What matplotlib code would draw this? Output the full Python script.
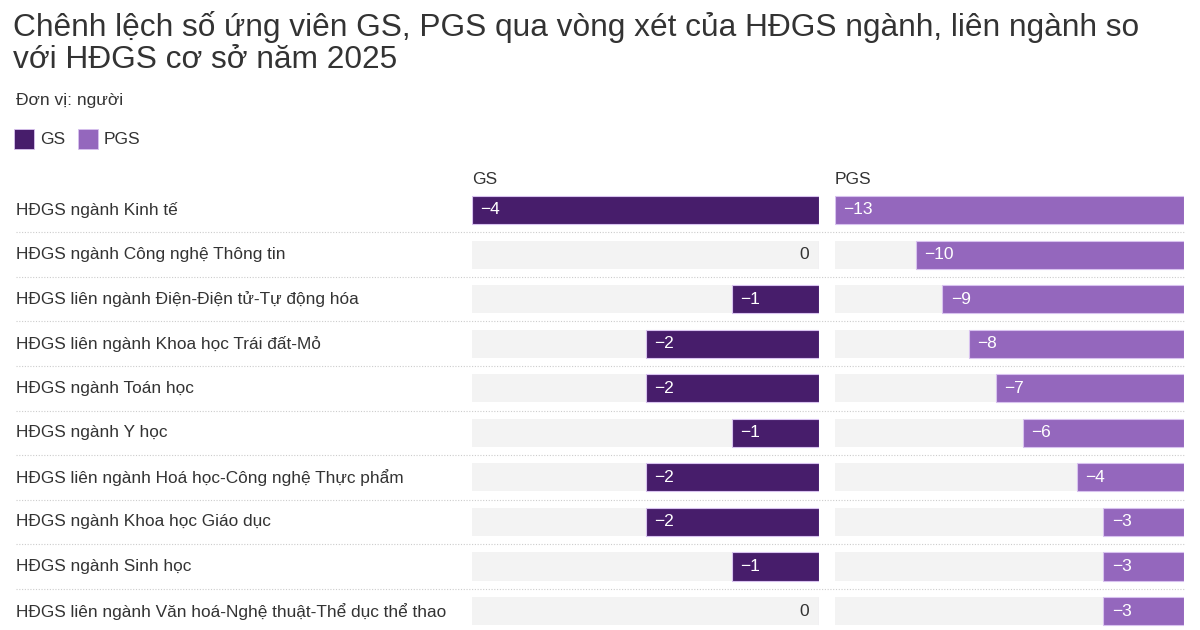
import matplotlib.pyplot as plt
from matplotlib.patches import Rectangle

plt.rcParams['font.family'] = ['Liberation Sans', 'DejaVu Sans']

# Data
categories = [
    'HĐGS ngành Kinh tế',
    'HĐGS ngành Công nghệ Thông tin',
    'HĐGS liên ngành Điện-Điện tử-Tự động hóa',
    'HĐGS liên ngành Khoa học Trái đất-Mỏ',
    'HĐGS ngành Toán học',
    'HĐGS ngành Y học',
    'HĐGS liên ngành Hoá học-Công nghệ Thực phẩm',
    'HĐGS ngành Khoa học Giáo dục',
    'HĐGS ngành Sinh học',
    'HĐGS liên ngành Văn hoá-Nghệ thuật-Thể dục thể thao',
]
gs = [-4, 0, -1, -2, -2, -1, -2, -2, -1, 0]
pgs = [-13, -10, -9, -8, -7, -6, -4, -3, -3, -3]

title = 'Chênh lệch số ứng viên GS, PGS qua vòng xét của HĐGS ngành, liên ngành so\nvới HĐGS cơ sở năm 2025'
subtitle = 'Đơn vị: người'

gs_color = '#471d6b'
pgs_color = '#9467bd'
track_color = '#f3f3f3'
text_color = '#333333'

W, H = 1200, 630
fig = plt.figure(figsize=(12, 6.3), dpi=100)

def fx(px):
    return px / W

def fy(py):
    return 1 - py / H

n = len(categories)
row0, step = 210, 44.56
top = row0 - step / 2
height_px = step * n
ax_bottom = fy(top + height_px)
ax_h = height_px / H

ax_gs = fig.add_axes([fx(472), ax_bottom, fx(347), ax_h])
ax_pgs = fig.add_axes([fx(835), ax_bottom, fx(349), ax_h])

def fmt(v):
    return str(v).replace('-', '\u2212')

for ax, vals, color, lo in [(ax_gs, gs, gs_color, -4), (ax_pgs, pgs, pgs_color, -13)]:
    ax.set_xlim(lo, 0)
    ax.set_ylim(n - 0.5, -0.5)
    ax.axis('off')
    ys = range(n)
    ax.barh(ys, [lo] * n, left=0, height=0.63, color=track_color, zorder=1)
    ax.barh(ys, vals, left=0, height=0.63, color=color, edgecolor='#d8c2ef',
            linewidth=0.8, zorder=2)
    for y, v in zip(ys, vals):
        if v == 0:
            ax.annotate(fmt(v), (0, y), xytext=(-7, 0), textcoords='offset points',
                        ha='right', va='center', fontsize=12.5, color=text_color)
        else:
            ax.annotate(fmt(v), (v, y), xytext=(6, 0), textcoords='offset points',
                        ha='left', va='center', fontsize=12.5, color='white', zorder=3)

# Title and subtitle
fig.text(fx(13), fy(11), title, ha='left', va='top', fontsize=22.8, color=text_color,
         linespacing=1.1)
fig.text(fx(16), fy(100), subtitle, ha='left', va='center', fontsize=12.5, color=text_color)

# Legend
fig.patches.append(Rectangle((fx(14), fy(149)), fx(20), 20 / H, transform=fig.transFigure,
                             facecolor=gs_color, edgecolor='#d8c2ef', linewidth=0.6))
fig.text(fx(40), fy(139), 'GS', ha='left', va='center', fontsize=12.5, color=text_color)
fig.patches.append(Rectangle((fx(78), fy(149)), fx(20), 20 / H, transform=fig.transFigure,
                             facecolor=pgs_color, edgecolor='#d8c2ef', linewidth=0.6))
fig.text(fx(104), fy(139), 'PGS', ha='left', va='center', fontsize=12.5, color=text_color)

# Column headers
fig.text(fx(472), fy(180), 'GS', ha='left', va='center', fontsize=12.5, color=text_color)
fig.text(fx(835), fy(180), 'PGS', ha='left', va='center', fontsize=12.5, color=text_color)

# Category labels and separators
for i, cat in enumerate(categories):
    yc = row0 + i * step
    fig.text(fx(16), fy(yc), cat, ha='left', va='center', fontsize=12.4, color=text_color)
    if i < n - 1:
        ys = fy(yc + step / 2)
        fig.add_artist(plt.Line2D([fx(16), fx(1184)], [ys, ys], transform=fig.transFigure,
                                  color='#cccccc', linewidth=0.8, linestyle=(0, (1, 1.5))))

fig.savefig('out.png', dpi=100, facecolor='white')
